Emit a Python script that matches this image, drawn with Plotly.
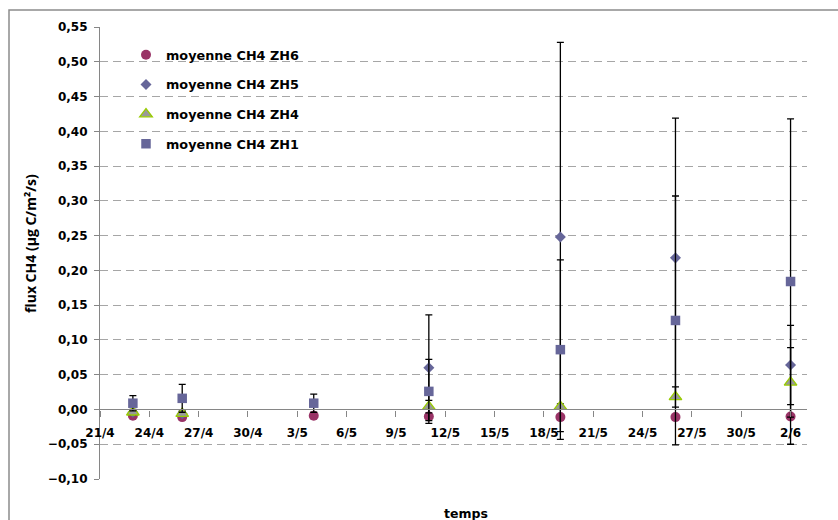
import plotly.graph_objects as go

# ---- data ----
dates = ["2010-04-23", "2010-04-26", "2010-05-04", "2010-05-11",
         "2010-05-19", "2010-05-26", "2010-06-02"]

zh6 = [-0.009, -0.011, -0.009, -0.010, -0.011, -0.011, -0.010]
zh6_err = [0, 0, 0, 0, 0, 0, 0]

zh5 = [-0.004, -0.006, None, 0.060, 0.248, 0.218, 0.064]
zh5_err = [0.004, 0.004, 0, 0.076, 0.280, 0.201, 0.057]

zh4 = [-0.004, -0.006, None, 0.004, 0.004, 0.018, 0.039]
zh4_err = [0.003, 0.003, 0, 0.009, 0.004, 0.0145, 0.050]

zh1 = [0.009, 0.016, 0.009, 0.026, 0.086, 0.128, 0.184]
zh1_err = [0.011, 0.020, 0.013, 0.046, 0.129, 0.179, 0.234]

tick_dates = ["2010-04-21", "2010-04-24", "2010-04-27", "2010-04-30",
              "2010-05-03", "2010-05-06", "2010-05-09", "2010-05-12",
              "2010-05-15", "2010-05-18", "2010-05-21", "2010-05-24",
              "2010-05-27", "2010-05-30", "2010-06-02"]
tick_labels = ["21/4", "24/4", "27/4", "30/4", "3/5", "6/5", "9/5", "12/5",
               "15/5", "18/5", "21/5", "24/5", "27/5", "30/5", "2/6"]

series_names = ["moyenne CH4 ZH6", "moyenne CH4 ZH5",
                "moyenne CH4 ZH4", "moyenne CH4 ZH1"]

FONT = "DejaVu Sans"

fig = go.Figure()

def add(name, y, err, symbol, color, size, line_color=None, line_w=0, group="a"):
    fig.add_trace(go.Scatter(
        x=dates, y=y, mode="markers", name=name,
        legendgroup=group,
        marker=dict(symbol=symbol, color=color, size=size,
                    line=dict(color=line_color or color, width=line_w)),
        error_y=dict(type="data", array=err, visible=True,
                     color="black", thickness=1.3, width=3.5),
    ))

add(series_names[0], zh6, zh6_err, "circle", "#993366", 10, group="g1")
add(series_names[1], zh5, zh5_err, "diamond", "#666699", 8.5, group="g2")
add(series_names[2], zh4, zh4_err, "triangle-up", "#999999", 11,
    line_color="#99CC00", line_w=1.3, group="g3")
add(series_names[3], zh1, zh1_err, "square", "#666699", 9.5, group="g4")

L, R, T, B = 100, 31, 27, 41
W, H = 838, 520
pw, ph = W - L - R, H - T - B

def px_x(p):
    return (p - L) / pw

def px_y(p):
    return (H - B - p) / ph

ymin, ymax = -0.10, 0.55

fig.update_layout(
    width=W, height=H,
    margin=dict(l=L, r=R, t=T, b=B, autoexpand=False),
    paper_bgcolor="white", plot_bgcolor="white",
    separators=", ",
    font=dict(family=FONT, size=12, color="black"),
    showlegend=True,
    legend=dict(
        x=px_x(126), y=px_y(40), xanchor="left", yanchor="top",
        bgcolor="rgba(0,0,0,0)", tracegroupgap=10,
        font=dict(family=FONT, size=12.8, color="black", weight="bold"),
    ),
    xaxis=dict(
        type="date", automargin=False,
        range=["2010-04-21", "2010-06-03"],
        tickvals=tick_dates, ticktext=tick_labels,
        showgrid=False, zeroline=False,
        showline=True, linecolor="#868686", linewidth=1.2,
        ticks="outside", ticklen=6, tickcolor="#868686", tickwidth=1.2,
        tickfont=dict(family=FONT, size=12, color="black", weight="bold"),
        anchor="free", position=(0 - ymin) / (ymax - ymin),
        ticklabelstandoff=6,
    ),
    yaxis=dict(
        range=[ymin, ymax], dtick=0.05, tick0=0, tickformat=".2f",
        automargin=False,
        showgrid=True, gridcolor="#a6a6a6", griddash="8px,5px", gridwidth=1,
        zeroline=False,
        showline=True, linecolor="#868686", linewidth=1.2,
        ticks="outside", ticklen=5, tickcolor="#868686", tickwidth=1.2,
        tickfont=dict(family=FONT, size=12, color="black", weight="bold"),
        ticklabelstandoff=4,
    ),
)

fig.add_annotation(
    text="flux CH4 (µg C/m²/s)", xref="paper", yref="paper",
    x=px_x(30), y=px_y(244), textangle=-90, showarrow=False,
    xanchor="center", yanchor="middle",
    font=dict(family="Open Sans", size=14, color="black", weight="bold"),
)
fig.add_annotation(
    text="temps", xref="paper", yref="paper",
    x=px_x(466), y=px_y(513), showarrow=False,
    xanchor="center", yanchor="middle",
    font=dict(family=FONT, size=12.5, color="black", weight="bold"),
)

fig.add_shape(
    type="rect", xref="paper", yref="paper",
    x0=px_x(9), x1=px_x(845), y0=px_y(530), y1=px_y(10),
    line=dict(color="#8c8c8c", width=1.5), fillcolor="rgba(0,0,0,0)",
    layer="below",
)

fig.write_html("out.html",
               config={"displayModeBar": False},
               post_script="document.body.style.margin='0';document.body.style.overflow='hidden';")
